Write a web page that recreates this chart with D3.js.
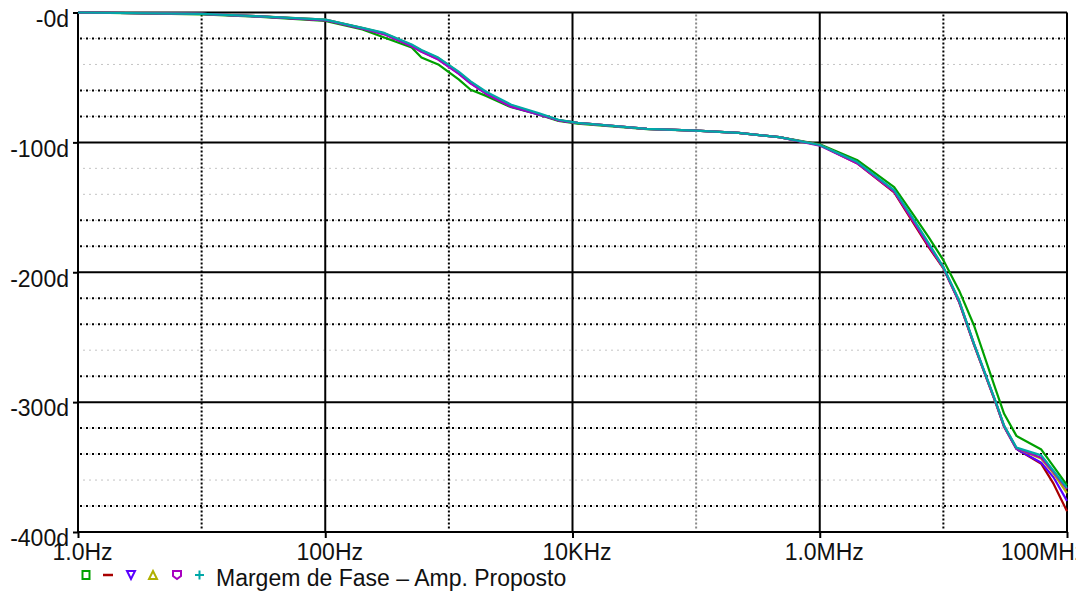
<!DOCTYPE html>
<html>
<head>
<meta charset="utf-8">
<script src="https://cdn.jsdelivr.net/npm/d3@7"></script>
<style>
  html, body { margin: 0; padding: 0; background: #fff; }
  svg { display: block; font-family: "Liberation Sans", Arial, sans-serif; }
</style>
</head>
<body>
<svg id="chart" width="1076" height="594"></svg>
<script>
// Frequency sweep points (Hz)
const freqHz = [1, 10, 30, 100, 200, 300, 500, 600, 820, 1200, 1500, 2000, 3200, 5300, 7700, 11000,
  40000, 100000, 220000, 470000, 1e6, 2e6, 4e6, 5.6e6, 7.6e6, 1e7, 1.34e7, 1.77e7, 2.66e7, 3.1e7,
  3.9e7, 6.2e7, 7.8e7, 1e8];

// Phase (degrees) for each trace
const phaseGreen = [0, -1.5, -3.3, -6.5, -13, -19.3, -27, -34.7, -40, -51.5, -59.5, -64.2, -73, -78.5, -83.5, -85.5,
  -89.8, -91, -92.7, -96, -101.5, -113.5, -134.5, -154.4, -173, -190.7, -214, -241, -290.8, -309,
  -326, -336.5, -349.7, -364];
const phaseRed = [0, -1, -3, -5.8, -12, -16.2, -25.5, -29.5, -35.5, -46.5, -54, -62, -72, -78.2, -83, -85,
  -89.6, -91, -92.7, -96, -102, -116, -138.5, -160.6, -180.7, -197, -223, -256, -301, -319,
  -336, -347.5, -363, -384];
const phaseBlue = [0, -1, -3.2, -5.5, -12.2, -16.5, -25.8, -30, -36, -47, -54.5, -62.5, -72.5, -78.5, -83, -85,
  -89.6, -91, -92.7, -96, -102, -115.5, -137.5, -159, -179, -196.5, -222.5, -255.5, -300.5, -319,
  -336, -346.7, -358, -376];
const phaseOlive = [0, -1, -3, -5.5, -12, -16, -25, -29.2, -35, -46, -53.5, -61.5, -71.5, -78, -82.8, -85,
  -89.6, -91, -92.7, -96, -102, -115.5, -137.5, -158.5, -178.5, -196.5, -222, -255.5, -300.5, -318.5,
  -335.5, -343.6, -355, -370];
const phaseMagenta = [0, -1, -3, -6, -12.5, -16.8, -26, -30.2, -36.2, -47, -54.5, -62.5, -72.5, -78.3, -83, -85,
  -89.6, -91, -92.7, -96, -102.5, -116, -138, -159.5, -179.5, -196.5, -222.5, -255.5, -300.5, -318.5,
  -335.5, -342.8, -354, -367];
const phaseCyan = [0, -1, -3, -5.5, -11.8, -15.7, -24.7, -28.8, -34.7, -45.5, -53, -61, -71, -77.5, -82.6, -85,
  -89.6, -91, -92.7, -96, -102, -115, -136.7, -157.5, -177.6, -196, -221.6, -255, -300, -318,
  -335, -341, -353, -366];

const seriesColors = ["#00a000", "#a80000", "#5a00ff", "#b0b000", "#a800c0", "#00a8a8"];
const seriesValues = [phaseGreen, phaseRed, phaseBlue, phaseOlive, phaseMagenta, phaseCyan];
const legendTitle = "Margem de Fase \u2013 Amp. Proposto";

// Axis ticks
const xMajorTicks = [1, 100, 1e4, 1e6, 1e8];
const xMajorLabels = ["1.0Hz", "100Hz", "10KHz", "1.0MHz", "100MHz"];
const xMinorBlack = [10, 1000, 1e7];
const xMinorGray = [1e5];
const yMajorTicks = [0, -100, -200, -300, -400];
const yMajorLabels = ["-0d", "-100d", "-200d", "-300d", "-400d"];
const yMinorAll = [-20, -40, -60, -80, -120, -140, -160, -180, -220, -240, -260, -280, -320, -340, -360, -380];
const yMinorBlack = [-20, -60, -80, -160, -180, -220, -240, -280, -320, -340, -380];

const svg = d3.select("#chart");
const plotL = 78, plotR = 1067, plotT = 12.5, plotB = 532;
const fontPx = 23;

const x = d3.scaleLog().domain([1, 1e8]).range([plotL, plotR]);
const y = d3.scaleLinear().domain([0, -400]).range([plotT, plotB]);

const grid = svg.append("g");

// light dashed horizontal guides
grid.selectAll("line.hg").data(yMinorAll).join("line")
  .attr("x1", plotL + 2).attr("x2", plotR - 2)
  .attr("y1", d => y(d)).attr("y2", d => y(d))
  .attr("stroke", "#c4c4c4").attr("stroke-width", 1)
  .attr("stroke-dasharray", "2,4").attr("stroke-dashoffset", 3);

// black dotted horizontal guides
grid.selectAll("line.hb").data(yMinorBlack).join("line")
  .attr("x1", plotL + 2).attr("x2", plotR - 2)
  .attr("y1", d => y(d)).attr("y2", d => y(d))
  .attr("stroke", "#000").attr("stroke-width", 2)
  .attr("stroke-dasharray", "2,4");

// vertical dotted guides
grid.selectAll("line.vb").data(xMinorBlack).join("line")
  .attr("x1", d => x(d)).attr("x2", d => x(d))
  .attr("y1", plotT + 2).attr("y2", plotB - 2)
  .attr("stroke", "#000").attr("stroke-width", 2)
  .attr("stroke-dasharray", "2,2");
grid.selectAll("line.vg").data(xMinorGray).join("line")
  .attr("x1", d => x(d)).attr("x2", d => x(d))
  .attr("y1", plotT + 2).attr("y2", plotB - 2)
  .attr("stroke", "#8a8a8a").attr("stroke-width", 2)
  .attr("stroke-dasharray", "2,2");

// solid major grid
grid.selectAll("line.hm").data(yMajorTicks).join("line")
  .attr("x1", plotL).attr("x2", plotR)
  .attr("y1", d => y(d)).attr("y2", d => y(d))
  .attr("stroke", "#000").attr("stroke-width", 2);
grid.selectAll("line.vm").data(xMajorTicks).join("line")
  .attr("x1", d => x(d)).attr("x2", d => x(d))
  .attr("y1", plotT).attr("y2", plotB)
  .attr("stroke", "#000").attr("stroke-width", 2);

// axes with outward ticks
const xAxis = d3.axisBottom(x).tickValues(xMajorTicks)
  .tickFormat((d, i) => xMajorLabels[i]).tickSize(6).tickSizeOuter(0).tickPadding(6);
const gx = svg.append("g").attr("transform", `translate(0,${plotB})`).call(xAxis);
gx.select(".domain").remove();
gx.selectAll(".tick line").attr("stroke", "#000").attr("stroke-width", 2);
gx.selectAll(".tick text")
  .attr("font-size", fontPx).attr("fill", "#111")
  .attr("dx", (d, i) => i === xMajorTicks.length - 1 ? -24 : 4)
  .attr("dy", "0.71em");

const yAxis = d3.axisLeft(y).tickValues(yMajorTicks)
  .tickFormat((d, i) => yMajorLabels[i]).tickSize(5).tickSizeOuter(0).tickPadding(4);
const gy = svg.append("g").attr("transform", `translate(${plotL},0)`).call(yAxis);
gy.select(".domain").remove();
gy.selectAll(".tick line").attr("stroke", "#000").attr("stroke-width", 2);
gy.selectAll(".tick text")
  .attr("font-size", fontPx).attr("fill", "#111")
  .attr("dy", "0.6em");

// traces
const line = d3.line()
  .x((d, i) => x(freqHz[i]))
  .y(d => y(d));

svg.append("g").selectAll("path").data(seriesValues).join("path")
  .attr("d", d => line(d))
  .attr("fill", "none")
  .attr("stroke", (d, i) => seriesColors[i])
  .attr("stroke-width", 2.2)
  .attr("stroke-linejoin", "round");

// legend markers
const leg = svg.append("g");
const ly = 575;
const markerX = [86, 108, 131, 153, 177, 199.5];
leg.append("rect").attr("x", markerX[0] - 3.5).attr("y", ly - 4).attr("width", 7).attr("height", 8)
  .attr("fill", "none").attr("stroke", seriesColors[0]).attr("stroke-width", 2);
leg.append("line").attr("x1", markerX[1] - 5).attr("x2", markerX[1] + 5).attr("y1", ly).attr("y2", ly)
  .attr("stroke", seriesColors[1]).attr("stroke-width", 2.5);
leg.append("path")
  .attr("d", `M${markerX[2] - 4},${ly - 4}L${markerX[2] + 4},${ly - 4}L${markerX[2]},${ly + 4}Z`)
  .attr("fill", "none").attr("stroke", seriesColors[2]).attr("stroke-width", 2);
leg.append("path")
  .attr("d", `M${markerX[3] - 4},${ly + 4}L${markerX[3] + 4},${ly + 4}L${markerX[3]},${ly - 4}Z`)
  .attr("fill", "none").attr("stroke", seriesColors[3]).attr("stroke-width", 2);
leg.append("path")
  .attr("d", `M${markerX[4] - 4},${ly - 4}L${markerX[4] + 4},${ly - 4}L${markerX[4] + 4},${ly + 1}L${markerX[4]},${ly + 4}L${markerX[4] - 4},${ly + 1}Z`)
  .attr("fill", "none").attr("stroke", seriesColors[4]).attr("stroke-width", 2);
leg.append("path")
  .attr("d", `M${markerX[5] - 4.5},${ly}L${markerX[5] + 4.5},${ly}M${markerX[5]},${ly - 4.5}L${markerX[5]},${ly + 4.5}`)
  .attr("fill", "none").attr("stroke", seriesColors[5]).attr("stroke-width", 2);
leg.append("text").attr("x", 216).attr("y", 586)
  .attr("font-size", fontPx).attr("fill", "#111").text(legendTitle);
</script>
</body>
</html>
